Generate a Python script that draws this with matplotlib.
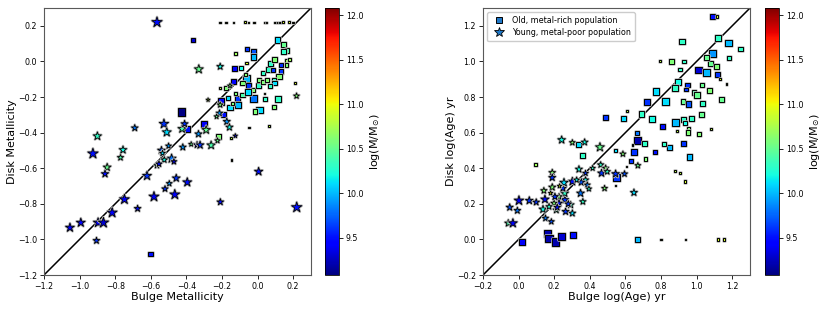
import matplotlib
matplotlib.use("Agg")
import matplotlib.pyplot as plt
import matplotlib.patheffects as pe
from matplotlib.colors import Normalize
from matplotlib.lines import Line2D
import numpy as np

# ---- left panel: metallicity ----
# squares: old, metal-rich population
mz_sq_x = [-0.364, -0.429, -0.30, -0.394, -0.60, -0.19, -0.22, -0.125, -0.061, -0.024,
           -0.024, -0.13, -0.095, -0.136, -0.061, -0.085, -0.052, -0.178, -0.206, -0.165,
           -0.114, -0.155, -0.109, -0.085, -0.024, 0.01, -0.015, 0.041, -0.024, 0.004,
           0.01, 0.032, 0.06, 0.073, 0.097, 0.112, 0.148, 0.166, 0.144, 0.131,
           0.131, 0.122, 0.092, 0.097, 0.069, 0.088, 0.116, 0.092, 0.163, 0.181,
           0.163, 0.209, -0.061, -0.07, -0.052, -0.123, -0.14, 0.032, 0.051,
           -0.21, -0.177, -0.136, -0.071, -0.052, -0.02, 0.041, 0.051, 0.097, 0.112,
           0.125, 0.144, 0.178, 0.2, -0.047, 0.063, -0.147, -0.15, 0.04, -0.21]
mz_sq_y = [0.121, -0.283, -0.351, -0.38, -1.082, -0.30, -0.422, 0.043, 0.069, 0.056,
           0.024, -0.042, -0.038, -0.113, -0.098, -0.122, -0.137, -0.15, -0.225, -0.206,
           -0.21, -0.257, -0.244, -0.188, -0.21, -0.272, -0.281, -0.212, -0.16, -0.137,
           -0.104, -0.066, -0.047, -0.01, 0.009, 0.121, 0.093, 0.061, 0.056, -0.019,
           -0.057, -0.085, -0.104, -0.122, -0.137, -0.047, -0.21, -0.257, 0.003, 0.013,
           -0.019, -0.122, -0.01, -0.075, -0.17, -0.18, -0.235, -0.116, -0.104,
           0.22, 0.22, 0.22, 0.22, 0.22, 0.22, 0.22, 0.22, 0.22, 0.22,
           0.22, 0.22, 0.22, 0.22, -0.372, -0.362, -0.553, -0.43, -0.18, -0.15]
mz_sq_m = [9.3, 9.1, 9.4, 9.5, 9.5, 9.5, 10.6, 10.7, 9.6, 9.7,
           10.0, 9.4, 10.2, 9.4, 10.0, 10.6, 9.6, 10.6, 9.4, 10.1,
           9.6, 10.1, 10.0, 10.4, 9.8, 10.1, 10.6, 10.3, 10.6, 10.3,
           10.6, 10.3, 10.3, 10.3, 10.6, 10.1, 10.5, 10.4, 10.3, 9.6,
           9.6, 10.6, 10.3, 10.1, 10.3, 9.6, 10.3, 10.6, 10.7, 10.7,
           10.6, 10.9, 10.9, 10.6, 10.1, 10.6, 10.6, 10.6, 10.6,
           10.8, 10.8, 10.8, 10.9, 10.8, 10.8, 10.8, 10.8, 10.8, 10.8,
           10.8, 10.9, 10.9, 10.8, 10.8, 10.8, 10.8, 10.8, 10.8, 10.8]
mz_sq_w = [25, 75, 50, 40, 30, 30, 25, 15, 25, 30,
           40, 35, 22, 30, 70, 25, 35, 25, 55, 25,
           30, 35, 55, 25, 70, 55, 30, 25, 25, 30,
           25, 25, 30, 40, 30, 40, 35, 25, 30, 25,
           30, 45, 30, 30, 25, 25, 50, 18, 20, 12,
           20, 8, 8, 12, 50, 18, 15, 20, 20,
           3, 3, 3, 8, 3, 3, 3, 3, 3, 3,
           3, 8, 8, 3, 3, 3, 3, 3, 3, 3]

# stars: young, metal-poor population
mz_st_x = [-0.565, -0.90, -0.925, -0.69, -0.77, -0.756, -0.845, -0.857, -0.905, -1.054,
           -0.993, -0.896, -0.866, -0.817, -0.748, -0.674, -0.621, -0.582, -0.465, -0.457,
           -0.496, -0.52, -0.395, -0.526, -0.51, -0.54, -0.534, -0.483, -0.47, -0.524,
           -0.565, -0.554, -0.50, -0.424, -0.41, -0.42, -0.373, -0.34, -0.323, -0.332,
           -0.289, -0.261, -0.33, -0.21, -0.155, -0.21, -0.214, -0.173, -0.158, -0.209,
           0.006, 0.22, 0.219, -0.125, -0.225, -0.278, -0.23]
mz_st_y = [0.22, -0.42, -0.518, -0.374, -0.54, -0.497, -0.595, -0.632, -1.007, -0.934,
           -0.906, -0.906, -0.906, -0.85, -0.775, -0.827, -0.643, -0.76, -0.748, -0.656,
           -0.686, -0.716, -0.679, -0.351, -0.398, -0.50, -0.516, -0.546, -0.563, -0.553,
           -0.585, -0.576, -0.475, -0.379, -0.351, -0.482, -0.465, -0.469, -0.47, -0.408,
           -0.385, -0.471, -0.044, -0.029, -0.137, -0.244, -0.291, -0.338, -0.37, -0.79,
           -0.619, -0.82, -0.194, -0.418, -0.445, -0.216, -0.31]
mz_st_m = [9.5, 10.3, 9.5, 9.8, 10.4, 10.2, 10.5, 9.5, 9.6, 9.4,
           9.4, 9.4, 9.3, 9.4, 9.4, 9.5, 9.6, 9.4, 9.4, 9.6,
           9.9, 9.6, 9.5, 9.6, 10.1, 9.7, 10.1, 9.8, 9.3, 10.2,
           10.3, 9.5, 9.9, 10.4, 9.6, 9.9, 10.5, 9.4, 9.6, 9.9,
           10.5, 10.4, 10.5, 10.2, 10.6, 10.6, 9.9, 9.9, 10.2, 9.5,
           9.5, 9.5, 10.6, 9.5, 10.5, 10.8, 10.5]
mz_st_w = [110, 70, 110, 45, 40, 60, 60, 55, 45, 80,
           80, 90, 110, 100, 100, 45, 80, 100, 100, 60,
           35, 40, 80, 90, 80, 60, 35, 80, 35, 40,
           35, 40, 35, 70, 50, 45, 25, 45, 60, 50,
           70, 70, 80, 45, 25, 35, 45, 50, 50, 45,
           70, 110, 35, 20, 30, 15, 25]

# ---- right panel: ages ----
ag_sq_x = [1.088, 1.116, 0.919, 1.121, 1.181, 1.247, 1.088, 0.859, 0.928, 1.079,
           1.054, 1.181, 1.01, 1.054, 1.112, 1.116, 0.906, 0.895, 0.88, 0.947,
           0.773, 0.941, 0.985, 1.003, 1.073, 1.029, 1.032, 1.14, 0.723, 0.826,
           0.923, 0.953, 0.691, 0.751, 0.489, 0.588, 0.808, 0.88, 0.928, 0.971,
           0.935, 1.029, 0.953, 0.953, 1.013, 0.339, 0.36, 0.663, 0.668, 0.648,
           0.631, 0.708, 0.766, 0.848, 0.816, 0.928, 0.96, 0.545, 0.713, 0.667,
           0.55, 0.017, 0.161, 0.171, 0.208, 0.242, 0.305, 0.094,
           0.80, 0.938, 1.12, 1.153, 0.794, 0.61, 1.168, 0.891, 1.082, 0.878,
           0.906, 0.934, 0.545, 0.605, 0.64, 1.13]
ag_sq_y = [1.252, 1.252, 1.112, 1.134, 1.103, 1.069, 1.046, 1.0, 1.0, 0.99,
           1.024, 1.018, 0.952, 0.938, 0.971, 0.925, 0.956, 0.887, 0.85, 0.868,
           0.831, 0.842, 0.826, 0.812, 0.836, 0.868, 0.765, 0.784, 0.771, 0.775,
           0.775, 0.76, 0.703, 0.675, 0.686, 0.677, 0.634, 0.656, 0.672, 0.681,
           0.653, 0.70, 0.625, 0.60, 0.591, 0.531, 0.469, 0.597, 0.554, 0.49,
           0.439, 0.541, 0.493, 0.518, 0.537, 0.537, 0.462, 0.499, 0.451, 0.0,
           0.349, -0.016, 0.034, 0.006, -0.013, 0.016, 0.025, 0.422,
           0.0, 0.0, 0.0, 0.0, 1.003, 0.722, 0.872, 0.61, 0.619, 0.385,
           0.372, 0.325, 0.302, 0.41, 0.53, 0.90]
ag_sq_m = [9.5, 10.9, 10.3, 10.3, 10.0, 10.3, 9.9, 10.6, 10.3, 10.5,
           10.5, 10.3, 9.3, 10.0, 10.6, 9.6, 10.3, 10.2, 10.3, 9.6,
           10.1, 9.6, 10.4, 10.5, 10.6, 10.5, 10.3, 10.5, 9.6, 10.1,
           10.5, 9.7, 10.3, 10.2, 9.6, 10.1, 9.5, 10.0, 10.3, 10.3,
           10.2, 10.5, 10.6, 10.6, 10.6, 10.1, 10.3, 9.8, 9.2, 9.6,
           9.6, 10.3, 9.5, 10.0, 10.3, 9.6, 10.0, 10.1, 10.6, 10.0,
           9.6, 9.4, 9.2, 9.2, 9.2, 9.3, 9.5, 10.7,
           10.8, 10.8, 10.9, 10.9, 10.8, 10.8, 10.8, 10.8, 10.8, 10.8,
           10.8, 10.9, 10.8, 10.8, 10.8, 10.9]
ag_sq_w = [35, 8, 40, 50, 60, 30, 70, 30, 18, 40,
           35, 25, 60, 60, 40, 30, 15, 50, 45, 30,
           55, 18, 30, 45, 35, 25, 40, 35, 50, 60,
           30, 40, 45, 50, 40, 35, 35, 60, 30, 30,
           25, 35, 15, 25, 18, 35, 35, 20, 65, 45,
           25, 35, 25, 40, 18, 35, 45, 15, 15, 35,
           60, 50, 75, 75, 80, 70, 60, 10,
           3, 3, 8, 8, 3, 3, 3, 3, 3, 3,
           3, 8, 3, 3, 3, 8]

ag_st_x = [0.242, 0.302, 0.371, 0.457, 0.461, 0.586, 0.67, 0.483, 0.648, 0.545,
           0.595, 0.466, 0.489, 0.498, 0.416, 0.376, 0.339, 0.376, 0.352, 0.386,
           0.395, 0.348, 0.361, 0.302, 0.326, 0.292, 0.302, 0.264, 0.26, 0.259,
           0.249, 0.255, 0.227, 0.227, 0.189, 0.189, 0.189, 0.148, 0.142, 0.137,
           0.151, 0.184, 0.199, 0.204, 0.212, 0.217, 0.171, 0.002, 0.06, 0.099,
           -0.05, -0.007, -0.058, -0.032, 0.279, 0.23, 0.18]
ag_st_y = [0.559, 0.544, 0.546, 0.518, 0.419, 0.48, 0.415, 0.287, 0.263, 0.368,
           0.368, 0.372, 0.40, 0.381, 0.40, 0.372, 0.394, 0.334, 0.321, 0.306,
           0.284, 0.259, 0.212, 0.325, 0.334, 0.194, 0.147, 0.156, 0.222, 0.259,
           0.287, 0.319, 0.24, 0.203, 0.375, 0.347, 0.293, 0.225, 0.274, 0.169,
           0.119, 0.10, 0.203, 0.24, 0.165, 0.18, 0.184, 0.218, 0.218, 0.209,
           0.18, 0.162, 0.091, 0.091, 0.199, 0.30, 0.26]
ag_st_m = [10.2, 10.6, 10.2, 10.5, 10.3, 10.6, 10.5, 10.6, 10.1, 9.6,
           9.7, 9.6, 10.6, 10.3, 10.3, 9.6, 10.2, 10.2, 9.7, 9.8,
           10.3, 9.8, 10.3, 9.5, 10.2, 10.3, 10.1, 9.6, 9.6, 10.3,
           9.6, 10.1, 10.6, 9.5, 10.6, 9.6, 10.6, 9.5, 10.6, 10.2,
           9.8, 9.7, 10.6, 9.6, 10.4, 9.5, 10.3, 9.4, 9.6, 9.6,
           9.7, 9.8, 10.4, 9.4, 9.6, 10.9, 11.0]
ag_st_w = [60, 35, 45, 80, 40, 35, 35, 35, 50, 60,
           40, 60, 40, 40, 30, 35, 50, 40, 50, 35,
           30, 60, 40, 70, 35, 50, 45, 50, 60, 60,
           50, 70, 40, 50, 45, 50, 50, 70, 40, 60,
           40, 35, 40, 50, 45, 45, 40, 90, 60, 45,
           50, 45, 50, 80, 45, 20, 20]

cmap = plt.get_cmap('jet')
norm = Normalize(vmin=9.08, vmax=12.08)
halo = [pe.withStroke(linewidth=1.8, foreground='0.72')]

fig = plt.figure(figsize=(8.22, 3.09), dpi=100)
ax1 = fig.add_axes([0.0535, 0.110, 0.3248, 0.864])
cax1 = fig.add_axes([0.3954, 0.110, 0.017, 0.864])
ax2 = fig.add_axes([0.5876, 0.110, 0.3248, 0.864])
cax2 = fig.add_axes([0.9307, 0.110, 0.017, 0.864])


def panel(ax, sx, sy, sm, sw, tx, ty, tm, tw, lim):
    ax.plot(lim, lim, color='k', lw=1.1, zorder=1)
    ax.scatter(sx, sy, c=sm, s=np.array(sw) * 0.38, marker='s', cmap=cmap, norm=norm,
               edgecolors='k', linewidths=0.7, zorder=3, path_effects=halo)
    sc = ax.scatter(tx, ty, c=tm, s=np.array(tw) * 0.55, marker='*', cmap=cmap, norm=norm,
                    edgecolors='k', linewidths=0.6, zorder=3, path_effects=halo)
    ax.set_xlim(lim)
    ax.set_ylim(lim)
    ax.tick_params(labelsize=5.7, length=3, width=0.6, pad=2)
    for sp in ax.spines.values():
        sp.set_color('0.35')
        sp.set_linewidth(0.8)
    return sc


sc1 = panel(ax1, mz_sq_x, mz_sq_y, mz_sq_m, mz_sq_w, mz_st_x, mz_st_y, mz_st_m, mz_st_w, [-1.2, 0.3])
ax1.set_xticks(np.arange(-1.2, 0.21, 0.2))
ax1.set_yticks(np.arange(-1.2, 0.21, 0.2))
ax1.set_xlabel('Bulge Metallicity', fontsize=8, labelpad=1)
ax1.set_ylabel('Disk Metallicity', fontsize=8, labelpad=1)

sc2 = panel(ax2, ag_sq_x, ag_sq_y, ag_sq_m, ag_sq_w, ag_st_x, ag_st_y, ag_st_m, ag_st_w, [-0.2, 1.3])
ax2.set_xticks(np.arange(-0.2, 1.21, 0.2))
ax2.set_yticks(np.arange(-0.2, 1.21, 0.2))
ax2.set_xlabel('Bulge log(Age) yr', fontsize=8, labelpad=1)
ax2.set_ylabel('Disk log(Age) yr', fontsize=8, labelpad=1)

handles = [Line2D([], [], marker='s', ls='', color='#1f78c8', mec='k', mew=0.7, ms=5),
           Line2D([], [], marker='*', ls='', color='#1f78c8', mec='k', mew=0.6, ms=7)]
ax2.legend(handles, ['Old, metal-rich population', 'Young, metal-poor population'],
           loc='upper left', fontsize=5.8, handletextpad=0.6, borderpad=0.5,
           labelspacing=0.4, framealpha=1.0, edgecolor='0.8')

for cax, sc in [(cax1, sc1), (cax2, sc2)]:
    cb = fig.colorbar(sc, cax=cax, ticks=[9.5, 10.0, 10.5, 11.0, 11.5, 12.0])
    cb.ax.tick_params(labelsize=5.7, length=3, width=0.6, pad=2)
    cb.set_label(r'log(M/M$_{\odot}$)', fontsize=8, labelpad=3)
    cb.outline.set_linewidth(0.6)

fig.savefig('out.png', dpi=100)
